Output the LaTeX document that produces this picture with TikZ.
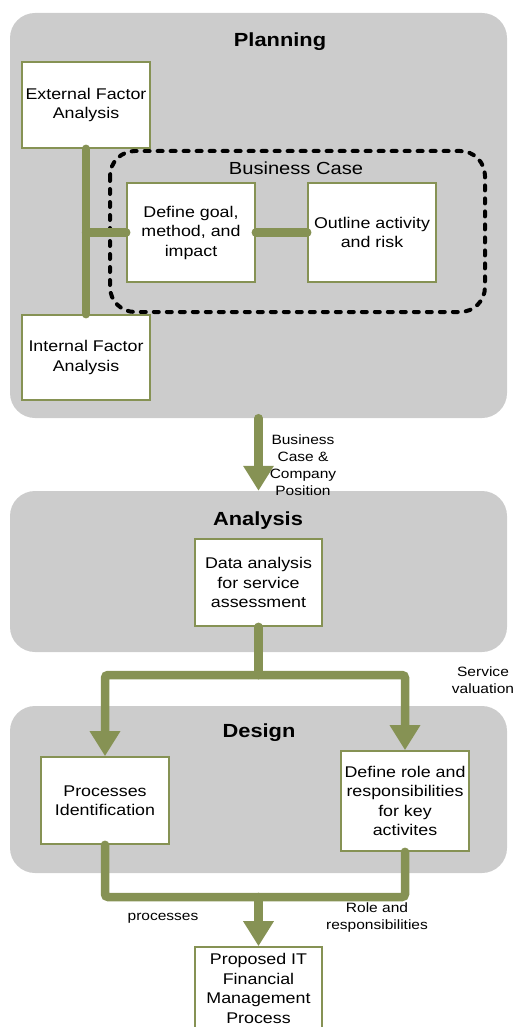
\documentclass[tikz,border=0pt]{standalone}
\usepackage{fontspec}
\setmainfont[FakeStretch=1.15]{Liberation Sans}
\usetikzlibrary{arrows.meta}
\definecolor{linkgreen}{RGB}{134,146,84}
\definecolor{panelgray}{RGB}{204,204,204}
\begin{document}
\begin{tikzpicture}[x=1pt,y=-1pt,
  panel/.style={fill=panelgray, draw=none, rounded corners=25pt, minimum width=497pt, inner sep=0pt},
  box/.style={draw=linkgreen, line width=1.6pt, fill=white, minimum width=128pt, inner sep=0pt, align=center, font=\fontsize{15.5}{19.5}\selectfont},
  title/.style={font=\fontsize{19}{22}\selectfont\bfseries},
  lbl/.style={font=\fontsize{13.5}{17}\selectfont, align=center},
  conn/.style={draw=linkgreen, line width=8.5pt, line cap=round, rounded corners=3pt},
  arr/.style={conn, -{Triangle[width=29pt,length=25pt]}},
  bcase/.style={draw=black, line width=4pt, line cap=round, dash pattern=on 5pt off 8pt, rounded corners=25pt}
]
\useasboundingbox (0,0) rectangle (515,1027);
\clip (0,0) rectangle (515,1027);

% panels
\node[panel, minimum height=405pt] (planning) at (258.5,215.5) {};
\node[panel, minimum height=161pt] (analysis) at (258.5,571.5) {};
\node[panel, minimum height=167pt] (design) at (258.5,789.5) {};

% titles
\node[title] (tplan) at (280,42) {Planning};
\node[title] (tana) at (258,521) {Analysis};
\node[title] (tdes) at (259,733) {Design};

% business case group
\draw[bcase] (110,151) rectangle (485,312);
\node[font=\fontsize{17.5}{21}\selectfont] (tbc) at (296,168) {Business Case};

% boxes
\node[box, minimum height=86pt] (ext) at (86,105) {External Factor\\Analysis};
\node[box, minimum height=85pt] (int) at (86,357.5) {Internal Factor\\Analysis};
\node[box, minimum height=99pt] (goal) at (191,232.5) {Define goal,\\method, and\\impact};
\node[box, minimum height=99pt] (outline) at (372,232.5) {Outline activity\\and risk};
\node[box, minimum width=127pt, minimum height=87pt] (data) at (258.5,582.5) {Data analysis\\for service\\assessment};
\node[box, minimum height=87pt] (proc) at (105,800.5) {Processes\\Identification};
\node[box, minimum height=100pt] (role) at (405,801) {Define role and\\responsibilities\\for key\\activites};
\node[box, minimum width=127pt, minimum height=83pt] (prop) at (258.5,988.5) {Proposed IT\\Financial\\Management\\Process};

% connectors in planning
\draw[conn] (ext.south) -- (int.north);
\coordinate (jn) at (ext.south |- goal.west);
\draw[conn] (jn) -- (goal.west);
\draw[conn] (goal.east) -- (outline.west);

% planning -> analysis
\draw[arr] (planning.south) -- (analysis.north);
\node[lbl] (l1) at (303,465.5) {Business\\Case \&\\Company\\Position};

% analysis -> design
\coordinate (split) at (258.5,675);
\draw[conn] (data.south) -- (split);
\draw[arr] (split) -| (proc.north);
\draw[arr] (split) -| (role.north);
\node[lbl] (l2) at (483,680.5) {Service\\valuation};

% design -> proposed
\coordinate (merge) at (258.5,897);
\draw[conn] (proc.south) |- (merge);
\draw[conn] (role.south) |- (merge);
\draw[arr] (merge) -- (prop.north);
\node[lbl] (l3) at (163,918) {processes};
\node[lbl] (l4) at (377,917.5) {Role and\\responsibilities};
\end{tikzpicture}
\end{document}
